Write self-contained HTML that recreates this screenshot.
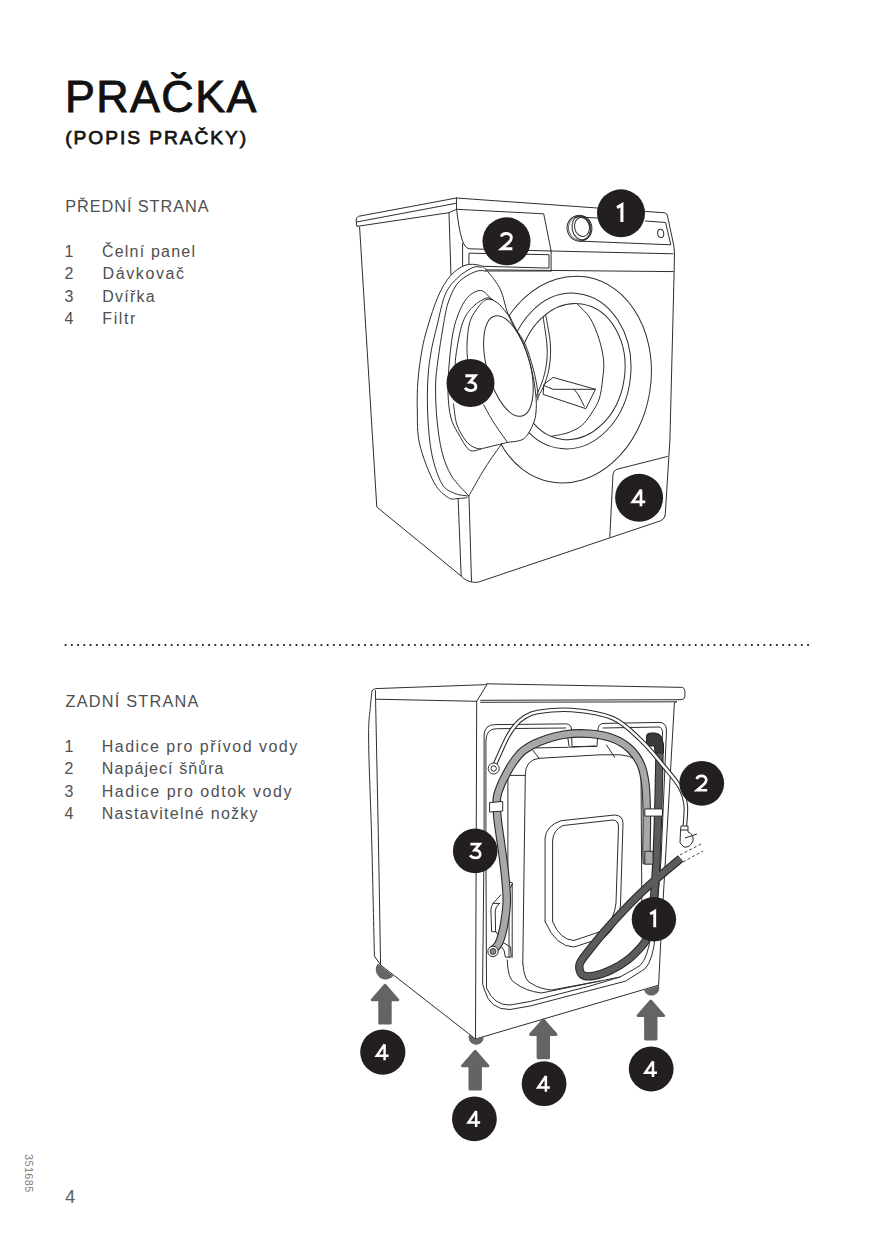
<!DOCTYPE html>
<html><head><meta charset="utf-8">
<style>
html,body{margin:0;padding:0;background:#fff;}
body{width:874px;height:1240px;position:relative;overflow:hidden;font-family:"Liberation Sans",sans-serif;}
.t{position:absolute;white-space:nowrap;line-height:1;}
#title{left:64.9px;top:73.8px;font-size:44.8px;letter-spacing:1.45px;color:#111;-webkit-text-stroke:0.9px #111;}
#sub{left:65.2px;top:127.6px;font-size:19.2px;letter-spacing:1.95px;color:#151515;-webkit-text-stroke:0.75px #151515;}
.h{font-size:16.3px;color:#505050;}
.l{font-size:16px;color:#505050;}
svg{position:absolute;left:0;top:0;}
</style></head><body>
<div class="t" id="title">PRAČKA</div>
<div class="t" id="sub">(POPIS PRAČKY)</div>
<div class="t h" id="h1" style="left:65.2px;top:198px;letter-spacing:0.94px">PŘEDNÍ STRANA</div>
<div class="t l" id="n1" style="left:64.6px;top:243.9px">1</div><div class="t l" id="f1" style="left:101.9px;top:243.9px;letter-spacing:1.21px">Čelní panel</div>
<div class="t l" id="n2" style="left:64.6px;top:266.3px">2</div><div class="t l" id="f2" style="left:102.6px;top:266.3px;letter-spacing:1.6px">Dávkovač</div>
<div class="t l" id="n3" style="left:64.6px;top:288.6px">3</div><div class="t l" id="f3" style="left:102.3px;top:288.6px;letter-spacing:1.24px">Dvířka</div>
<div class="t l" id="n4" style="left:64.6px;top:310.9px">4</div><div class="t l" id="f4" style="left:102.3px;top:310.9px;letter-spacing:1.6px">Filtr</div>
<div class="t h" id="h2" style="left:65.6px;top:692.9px;letter-spacing:1.22px">ZADNÍ STRANA</div>
<div class="t l" id="m1" style="left:64.6px;top:739.1px">1</div><div class="t l" id="b1" style="left:101.8px;top:739.1px;letter-spacing:1.47px">Hadice pro přívod vody</div>
<div class="t l" id="m2" style="left:64.6px;top:761.4px">2</div><div class="t l" id="b2" style="left:101.8px;top:761.4px;letter-spacing:1.085px">Napájecí šňůra</div>
<div class="t l" id="m3" style="left:64.6px;top:783.8px">3</div><div class="t l" id="b3" style="left:101.8px;top:783.8px;letter-spacing:1.52px">Hadice pro odtok vody</div>
<div class="t l" id="m4" style="left:64.6px;top:806.1px">4</div><div class="t l" id="b4" style="left:101.8px;top:806.1px;letter-spacing:1.265px">Nastavitelné nožky</div>
<div class="t" id="pg" style="left:65.3px;top:1188.6px;font-size:17.8px;color:#5a5a5a">4</div>
<div class="t" id="code" style="left:34px;top:1154px;font-size:10.8px;letter-spacing:0.45px;color:#808080;transform-origin:0 0;transform:rotate(90deg)">351685</div>
<svg width="874" height="1240" viewBox="0 0 874 1240"><g fill="none" stroke="#2e2e2e" stroke-width="1.0" stroke-linejoin="round" stroke-linecap="round">
<path d="M456.4,198 L358.5,216.3 Q355.6,217.5 356.2,221 L356.8,226.4 L449,212.7 L456.6,209.3" />
<path d="M356.6,222 L455.6,203.4" />
<path d="M456.4,198 L456.6,209.3" />
<path d="M359.6,227 L376.8,507 L461.2,576 Q466,581.5 473.6,582.3 L477.7,582.3 L660.9,520.7 Q665,518.5 665.2,515.2" />
<path d="M449,213 L451,276" />
<path d="M456.4,198 L664.9,212.8 Q667.1,213.5 667.5,216 L673.8,245.6 L674.5,253 L673.8,285 L669.9,440 L665.2,515.2" />
<path d="M456.6,209.3 L543.7,213.8 L551.1,251" />
<path d="M456.6,209.3 Q459,230 461.9,239 Q464.5,248 469.3,248.8 L551.1,251 L673,253.8" />
<path d="M462.6,243.5 L462.6,267.3" />
<path d="M469.3,253.2 L549,254.7 L549,268.1 L469.3,265.9 Z" />
<path d="M551.1,251 L551.1,271" />
<path d="M462.6,269.6 L673.3,271.6" />
<path d="M579.3,241.1 L670.8,244.8 L665.6,222.5 L645.5,221" />
<path d="M575,216.8 L597,218" />
<ellipse cx="579.5" cy="228.2" rx="12.4" ry="13" transform="rotate(-15 579.5 228.2)"/>
<ellipse cx="579.8" cy="228.2" rx="11.4" ry="12.1" transform="rotate(-15 579.8 228.2)" stroke-width="0.7"/>
<ellipse cx="581.2" cy="228" rx="9.1" ry="12" transform="rotate(-12 581.2 228)"/>
<ellipse cx="582" cy="227" rx="7.4" ry="9.6" transform="rotate(-12 582 227)"/>
<ellipse cx="660.7" cy="233.4" rx="3" ry="4.2" transform="rotate(-10 660.7 233.4)"/>
<path d="M609.8,537 L613,474 Q613.5,470.5 617,469.3 L667.4,456.5" />
<path d="M458.1,498.4 L461.2,576" />
<path d="M469,496.8 L471.5,581.2" />
<ellipse cx="569.2" cy="379.6" rx="81.5" ry="104" transform="rotate(9.8 569.2 379.6)"/>
<ellipse cx="569.2" cy="371" rx="61.6" ry="78" transform="rotate(5.8 569.2 371)"/>
<ellipse cx="571.5" cy="371.6" rx="53.2" ry="68.3" transform="rotate(8.6 571.5 371.6)"/>
<path d="M577.0,303.8 C579.2,306.2 586.3,312.1 590.0,318.0 C593.7,323.9 596.9,332.2 599.2,339.5 C601.5,346.8 603.2,355.1 603.7,361.8 C604.2,368.6 603.2,373.8 602.5,380.0 C601.8,386.2 601.1,393.3 599.2,399.0 C597.3,404.7 594.0,409.5 591.0,414.0 C588.0,418.5 585.4,422.6 581.4,425.8 C577.4,429.0 572.0,431.3 567.0,433.0 C562.0,434.7 554.2,435.7 551.6,436.2" />
<path d="M543.2,317.5 C543.8,321.8 546.2,335.9 546.8,343.2 C547.4,350.4 547.4,355.1 546.8,361.0 C546.2,366.9 545.0,372.8 543.2,378.7 C541.4,384.6 537.3,393.5 536.1,396.5" />
<path d="M545.9,315.7 C546.6,320.3 549.7,335.0 550.3,343.2 C550.9,351.4 550.5,358.4 549.6,365.0 C548.7,371.6 547.0,377.5 545.0,383.0 C543.0,388.5 538.8,395.5 537.5,398.0" />
<path d="M544.2,384.1 L553.1,377.4 L595.5,389.3 L585.9,408.7 L543.5,394.5 Z" />
<path d="M544.2,385.6 L553.1,389.3 L574,389.3 L595.5,389.3" />
<path d="M574,389.3 L578,394 L584.4,406.4" />
</g>
<path d="M466.9,497.7 C465.1,498.0 461.1,498.5 458.0,498.5 C454.9,498.5 452.4,500.4 448.4,497.7 C444.4,495.0 438.8,491.4 434.0,482.5 C429.2,473.6 422.4,456.1 419.6,444.0 C416.8,431.9 417.6,420.7 417.3,410.0 C417.0,399.3 417.2,390.0 418.0,380.0 C418.8,370.0 420.4,358.8 422.0,350.0 C423.6,341.2 424.9,336.0 427.6,327.0 C430.3,318.0 434.4,304.8 438.2,296.2 C442.0,287.6 446.1,280.8 450.6,275.6 C455.1,270.5 460.2,267.0 465.0,265.3 C469.8,263.6 475.6,264.3 479.4,265.3 C483.2,266.3 484.2,267.4 487.7,271.5 C491.2,275.6 497.1,282.6 500.6,290.0 C504.1,297.4 504.8,306.5 508.6,315.7 C512.5,324.9 519.9,336.0 523.7,345.0 C527.6,354.0 529.7,361.6 531.7,369.9 C533.7,378.2 535.1,388.0 535.8,395.0 C536.5,402.0 536.5,407.1 536.0,412.0 C535.5,416.9 535.1,419.7 533.1,424.1 C531.1,428.6 528.2,435.6 523.9,438.7 C519.6,441.8 511.1,441.6 507.5,442.4 C503.9,443.2 505.8,439.0 502.0,443.3 C498.2,447.6 490.6,459.1 485.0,468.0 C479.4,476.9 471.5,491.6 468.5,496.5 C465.5,501.4 468.6,497.4 466.9,497.7Z" fill="#fff" stroke="none"/>
<g fill="none" stroke="#2e2e2e" stroke-width="1.0" stroke-linejoin="round" stroke-linecap="round">
<path d="M466.9,497.7 C465.4,497.8 461.1,498.5 458.0,498.5 C454.9,498.5 452.4,500.4 448.4,497.7 C444.4,495.0 438.8,491.4 434.0,482.5 C429.2,473.6 422.4,456.1 419.6,444.0 C416.8,431.9 417.6,420.7 417.3,410.0 C417.0,399.3 417.2,390.0 418.0,380.0 C418.8,370.0 420.4,358.8 422.0,350.0 C423.6,341.2 424.9,336.0 427.6,327.0 C430.3,318.0 434.4,304.8 438.2,296.2 C442.0,287.6 446.1,280.8 450.6,275.6 C455.1,270.5 460.2,267.0 465.0,265.3 C469.8,263.6 475.6,264.3 479.4,265.3 C483.2,266.3 484.2,267.4 487.7,271.5 C491.2,275.6 497.1,282.6 500.6,290.0 C504.1,297.4 504.8,306.5 508.6,315.7 C512.5,324.9 519.9,336.0 523.7,345.0 C527.6,354.0 529.7,361.6 531.7,369.9 C533.7,378.2 535.1,388.0 535.8,395.0 C536.5,402.0 536.5,407.1 536.0,412.0 C535.5,416.9 535.1,419.7 533.1,424.1 C531.1,428.6 528.2,435.6 523.9,438.7 C519.6,441.8 510.2,441.8 507.5,442.4" />
<path d="M507.5,442.4 C503.0,443.5 485.0,447.9 480.5,449.0" />
<path d="M502.0,443.3 C499.2,447.4 490.6,459.1 485.0,468.0 C479.4,476.9 471.2,491.8 468.5,496.5" />
<path d="M481.5,267.4 C480.1,267.4 477.1,265.7 473.2,267.4 C469.3,269.1 462.6,272.9 458.0,277.4 C453.4,281.8 448.9,286.2 445.4,294.1 C441.9,302.0 439.7,314.9 437.2,325.0 C434.7,335.1 432.1,345.0 430.5,355.0 C428.9,365.0 428.0,374.2 427.6,385.0 C427.2,395.8 427.3,408.3 428.0,420.0 C428.7,431.7 429.7,444.3 432.0,455.0 C434.3,465.7 438.2,477.6 442.0,484.0 C445.8,490.4 450.6,491.5 455.0,493.5 C459.4,495.5 466.2,495.6 468.5,496.0" />
<path d="M485.6,271.0 C484.2,271.0 480.8,270.0 477.4,271.0 C474.0,272.0 468.6,274.5 465.0,277.0 C461.4,279.5 458.5,281.6 455.7,285.9 C452.9,290.2 450.1,296.5 448.0,303.0 C445.9,309.5 445.1,315.5 443.4,325.0 C441.7,334.5 439.3,350.0 438.0,360.0 C436.7,370.0 435.8,375.0 435.6,385.0 C435.4,395.0 435.9,408.8 437.0,420.0 C438.1,431.2 439.6,442.7 442.0,452.0 C444.4,461.3 447.2,468.8 451.6,476.0 C456.0,483.2 465.7,492.2 468.5,495.5" />
<path d="M485.6,271 L551,271" />
<path d="M508.6,315.7 C507.2,313.9 502.8,307.7 500.0,305.0 C497.2,302.3 495.1,301.7 491.8,299.3 C488.6,296.9 484.8,290.5 480.5,290.5 C476.2,290.5 470.3,293.6 466.0,299.3 C461.7,305.1 457.4,314.9 454.7,325.0 C451.9,335.1 450.6,348.7 449.5,360.0 C448.4,371.3 447.8,383.1 448.0,392.8 C448.2,402.5 449.3,411.3 451.0,418.0 C452.7,424.7 454.9,427.7 458.0,433.0 C461.1,438.3 465.6,447.3 469.3,450.0 C473.1,452.7 478.6,449.2 480.5,449.0" />
<path d="M492.7,299.8 C491.5,299.5 489.2,296.8 485.6,298.2 C482.0,299.6 475.1,304.0 471.2,308.5 C467.2,313.0 464.4,317.2 461.9,325.0 C459.4,332.8 457.1,347.3 456.0,355.0 C454.9,362.7 455.2,368.3 455.0,371.0" />
<path d="M453.5,404.0 C454.1,407.5 454.9,418.8 457.0,425.0 C459.1,431.2 463.2,437.3 466.0,441.0 C468.8,444.7 471.6,446.0 474.0,447.3 C476.4,448.6 479.4,448.7 480.5,449.0" />
<path d="M492.7,299.8 C491.4,299.9 487.7,298.2 484.6,300.3 C481.5,302.4 476.9,308.6 474.3,312.7 C471.7,316.8 470.3,319.6 469.1,325.0 C467.9,330.4 467.2,338.8 467.0,345.0 C466.8,351.2 467.6,359.2 467.7,362.0" />
<ellipse cx="508.4" cy="366" rx="21.5" ry="51.8" transform="rotate(-15.2 508.4 366)"/>
<path d="M509.8,316.2 C510.8,318.3 513.4,324.2 516.0,329.0 C518.6,333.8 522.6,338.2 525.5,345.0 C528.4,351.8 531.5,362.4 533.5,369.9 C535.5,377.4 536.8,385.0 537.5,390.0 C538.2,395.0 537.8,398.3 537.9,400.0" />
<path d="M483.7,404.9 C485.4,407.9 490.0,416.8 494.0,423.0 C498.0,429.2 505.2,439.2 507.5,442.4" />
</g>
<g fill="none" stroke="#2e2e2e" stroke-width="1.0" stroke-linejoin="round" stroke-linecap="round">
<path d="M372,691 Q373,688.8 375.8,688.6 L484.5,684.7 L487.4,683.8 L682.7,687.4 Q684.7,688 684.9,691.5 L684.9,696.5 Q684.7,699.5 681,699.7 L480.6,700.3" />
<path d="M375.8,699.2 L476.7,701.3 L487.4,683.8" />
<path d="M480.6,702.3 L676.5,701.8" />
<path d="M372.0,691.0 C371.7,693.8 370.9,699.3 370.3,707.5 C369.7,715.7 368.4,717.9 368.6,740.0 C368.8,762.1 370.7,804.0 371.7,840.0 C372.7,876.0 373.9,936.7 374.4,956.0 L380.6,965" />
<path d="M375.4,690.5 L378.5,845 L380.6,965" />
<path d="M380.6,965 L475.5,1039 L658.6,985.2" />
<path d="M476.7,701.3 L475.5,1039" />
<path d="M676.5,701.8 L674.4,702.8 L660.9,938.9 L658.6,985.2" />
<path d="M484.1,845 L484.1,735 Q484.5,724.6 495.1,724.6 L566.5,723.9 Q571.3,724.5 571.5,729 L572,746.6 L597,746.5 L598,729 Q598.5,723.4 604,723.4 L660,722.4 Q666.2,723 666.5,730 L661,860 L654,945.8 Q650,968 641.5,971 L625.5,981.2 L590,990.4 L530,1006 L510,1009.5 Q490,1010 484.5,990 L482.6,984 L484.1,845" />
<path d="M485.9,845 L485.9,741 Q486,728.7 496.5,728.7 L565.8,728 M603,728 L659,727 Q662.5,727.5 662.5,733 L657,860 L649.5,943.5 Q645,965 636,968 L620,977 L590,986 L530,1001.5 L510,1005 Q494,1005.5 486.5,988 L485.9,845" />
<path d="M567.9,738.3 L569.2,747.3 L595.3,745.9" />
<path d="M532.2,748 L567.9,747.3" />
<path d="M507.9,880 L507.9,775.4 L525.3,775.4" />
<path d="M522.8,963.3 L525.3,775 Q525.3,760 539,758.3 L600,754.8 L620,754.8 Q640,756 641,772 L642,930" />
<path d="M532.2,749.3 L539,758.3" />
<path d="M606.5,745 L614.7,757.4" />
<path d="M522.8,963.3 Q524,982 532.5,984.1 Q540,989 551.8,990 L600,981" />
<path d="M507.2,960 Q508,980 514.6,982.6 Q525,991 541.4,993 L620,977" />
<path d="M545.1,921.6 L545.1,838 Q546,826 561,820.7 L614.7,815 Q623,815.5 623,823.3 L620.5,905 Q619,925 605,937 L574,947 Q556,947 545.1,921.6" />
<path d="M552.6,921.6 L552.6,841 Q553,830 563,825.5 L613,820 Q618.5,820.5 618.5,827 L616,903 Q614.5,920 602,931 L574,940.5 Q560,940 552.6,921.6" />
<path d="M509,881.5 L512.7,883 L510.5,888 M509,881.5 L509,957.3 M512.2,884 L512.2,957.3" />
<path d="M501,894.7 L493.1,903.4 Q490.9,906 490.9,910 L491.6,931.7 L496,931.7 L503.2,942.6 L510.5,946.9 L511.2,957.1 L505.4,957.1 Q505,950 501.8,946.9" />
<path d="M499.6,903.4 Q495.2,907 495.2,911 L495.6,931.7" />
<path d="M493.1,903.4 L499.6,903.4" />
</g>
<path d="M492.5,950.5 C493.6,949.2 497.1,947.2 499.0,943.0 C500.9,938.8 502.7,932.2 504.0,925.0 C505.3,917.8 506.7,909.2 506.8,900.0 C506.9,890.8 505.6,880.0 504.5,870.0 C503.4,860.0 501.6,848.2 500.5,840.0 C499.4,831.8 498.4,826.8 497.8,821.0 C497.2,815.2 496.7,809.2 496.6,805.0 C496.5,800.8 496.7,798.8 497.2,796.0 C497.7,793.2 498.8,790.7 499.8,788.0 C500.8,785.3 501.2,784.0 503.3,779.9 C505.4,775.8 509.1,768.3 512.5,763.4 C515.9,758.5 518.8,754.2 523.4,750.6 C528.0,747.0 533.0,744.2 539.9,741.5 C546.8,738.8 556.6,735.8 565.0,734.5 C573.4,733.2 582.0,733.1 590.0,733.8 C598.0,734.5 606.3,736.0 613.0,738.5 C619.7,741.0 625.3,744.6 630.0,749.0 C634.7,753.4 638.4,759.0 641.0,765.0 C643.6,771.0 644.5,776.8 645.5,785.0 C646.5,793.2 646.6,803.2 646.8,814.0 C647.0,824.8 646.5,841.7 646.5,850.0 C646.5,858.3 646.9,861.7 647.0,864.0" fill="none" stroke="#2a2a2a" stroke-width="8.6" stroke-linecap="butt"/>
<path d="M492.5,950.5 C493.6,949.2 497.1,947.2 499.0,943.0 C500.9,938.8 502.7,932.2 504.0,925.0 C505.3,917.8 506.7,909.2 506.8,900.0 C506.9,890.8 505.6,880.0 504.5,870.0 C503.4,860.0 501.6,848.2 500.5,840.0 C499.4,831.8 498.4,826.8 497.8,821.0 C497.2,815.2 496.7,809.2 496.6,805.0 C496.5,800.8 496.7,798.8 497.2,796.0 C497.7,793.2 498.8,790.7 499.8,788.0 C500.8,785.3 501.2,784.0 503.3,779.9 C505.4,775.8 509.1,768.3 512.5,763.4 C515.9,758.5 518.8,754.2 523.4,750.6 C528.0,747.0 533.0,744.2 539.9,741.5 C546.8,738.8 556.6,735.8 565.0,734.5 C573.4,733.2 582.0,733.1 590.0,733.8 C598.0,734.5 606.3,736.0 613.0,738.5 C619.7,741.0 625.3,744.6 630.0,749.0 C634.7,753.4 638.4,759.0 641.0,765.0 C643.6,771.0 644.5,776.8 645.5,785.0 C646.5,793.2 646.6,803.2 646.8,814.0 C647.0,824.8 646.5,841.7 646.5,850.0 C646.5,858.3 646.9,861.7 647.0,864.0" fill="none" stroke="#a8a8a8" stroke-width="6.4" stroke-linecap="butt"/>
<circle cx="493" cy="951.4" r="5.2" fill="#fff" stroke="#2a2a2a" stroke-width="1"/><circle cx="493" cy="951.4" r="3" fill="#888" stroke="#2a2a2a" stroke-width="0.8"/>
<path d="M659.5,752.0 C659.3,760.0 659.0,782.0 658.5,800.0 C658.0,818.0 657.3,842.5 656.5,860.0 C655.7,877.5 654.5,893.7 653.5,905.0 C652.5,916.3 651.3,922.9 650.5,928.0 C649.7,933.1 649.8,933.0 648.5,935.8 C647.2,938.6 646.2,940.9 642.8,944.9 C639.4,948.9 633.2,955.6 627.9,959.8 C622.6,964.0 616.5,967.4 610.8,970.1 C605.1,972.8 598.4,975.0 593.6,975.8 C588.8,976.6 584.5,976.6 582.2,974.7 C579.9,972.8 578.7,968.2 579.6,964.4 C580.5,960.6 582.7,958.5 587.9,951.8 C593.1,945.1 601.4,934.6 610.8,924.3 C620.1,914.0 632.4,901.0 644.0,890.0 C655.6,879.0 674.5,863.8 680.6,858.5" fill="none" stroke="#2a2a2a" stroke-width="8.4" stroke-linecap="butt" stroke-linejoin="round"/>
<path d="M659.5,752.0 C659.3,760.0 659.0,782.0 658.5,800.0 C658.0,818.0 657.3,842.5 656.5,860.0 C655.7,877.5 654.5,893.7 653.5,905.0 C652.5,916.3 651.3,922.9 650.5,928.0 C649.7,933.1 649.8,933.0 648.5,935.8 C647.2,938.6 646.2,940.9 642.8,944.9 C639.4,948.9 633.2,955.6 627.9,959.8 C622.6,964.0 616.5,967.4 610.8,970.1 C605.1,972.8 598.4,975.0 593.6,975.8 C588.8,976.6 584.5,976.6 582.2,974.7 C579.9,972.8 578.7,968.2 579.6,964.4 C580.5,960.6 582.7,958.5 587.9,951.8 C593.1,945.1 601.4,934.6 610.8,924.3 C620.1,914.0 632.4,901.0 644.0,890.0 C655.6,879.0 674.5,863.8 680.6,858.5" fill="none" stroke="#5c5c5c" stroke-width="6.2" stroke-linecap="butt" stroke-linejoin="round"/>
<path d="M644.8,808.9 L662.5,808.9 L662.5,816.1 L644.8,816.1 Z" fill="#fff" stroke="#2a2a2a" stroke-width="1"/>
<path d="M644.8,851.3 L653,851.3 L653,864.2 L644.8,864.2 Z" fill="#aaa" stroke="#2a2a2a" stroke-width="1"/>
<path d="M489.6,802.5 L502.7,801.5 L502.7,811.1 L489.6,812 Z" fill="#fff" stroke="#2a2a2a" stroke-width="1"/>
<path d="M646.5,735.5 Q647,733 650.5,733 L655,733 Q660,733.5 661.5,737 L663.5,744 L663.5,753 L655,753 L654.5,746 L649,746 Q646.5,745 646.5,742 Z" fill="#3a3a3a" stroke="#222" stroke-width="1"/>
<path d="M680,855 L702,843.5 M683,862 L703,851" stroke="#333" stroke-width="0.9" stroke-dasharray="3,2.2" fill="none"/>
<path d="M494.2,766.0 C495.2,763.8 497.8,757.8 500.0,753.0 C502.2,748.2 505.0,741.6 507.5,737.0 C510.0,732.4 512.5,728.8 515.2,725.5 C518.0,722.2 520.2,719.8 524.0,717.5 C527.8,715.2 529.8,713.2 537.7,712.0 C545.6,710.8 559.0,709.0 571.5,710.0 C584.0,711.0 601.0,713.1 612.7,718.2 C624.4,723.3 633.1,732.8 641.6,740.8 C650.1,748.8 657.6,758.8 664.0,766.5 C670.4,774.2 676.4,780.9 680.0,787.3 C683.6,793.7 684.9,798.6 685.7,805.0 C686.5,811.4 685.0,822.2 684.9,825.7" fill="none" stroke="#2a2a2a" stroke-width="4.6" stroke-linecap="butt"/>
<path d="M494.2,766.0 C495.2,763.8 497.8,757.8 500.0,753.0 C502.2,748.2 505.0,741.6 507.5,737.0 C510.0,732.4 512.5,728.8 515.2,725.5 C518.0,722.2 520.2,719.8 524.0,717.5 C527.8,715.2 529.8,713.2 537.7,712.0 C545.6,710.8 559.0,709.0 571.5,710.0 C584.0,711.0 601.0,713.1 612.7,718.2 C624.4,723.3 633.1,732.8 641.6,740.8 C650.1,748.8 657.6,758.8 664.0,766.5 C670.4,774.2 676.4,780.9 680.0,787.3 C683.6,793.7 684.9,798.6 685.7,805.0 C686.5,811.4 685.0,822.2 684.9,825.7" fill="none" stroke="#fff" stroke-width="2.5" stroke-linecap="butt"/>
<circle cx="493.7" cy="768.5" r="5.5" fill="#fff" stroke="#2a2a2a" stroke-width="1"/><circle cx="493.7" cy="768.5" r="2.7" fill="#fff" stroke="#2a2a2a" stroke-width="1"/>
<path d="M681,826 L688,826 L688,832 Q694,834 693,841 Q690,848 684,847 L680,843 L680.5,831 Z" fill="#fff" stroke="#2a2a2a" stroke-width="1"/>
<path d="M681,830 L688,830 M685,838 L697,834" stroke="#2a2a2a" stroke-width="1" fill="none"/>
<path d="M377.8,963.5 A8.0,8.0 0 0 0 393.5,975.8 Z" fill="#666"/>
<path d="M469.2,1034.1 L475.5,1039 L483.7,1036.6 A7.6,7.6 0 1 1 469.2,1034.1 Z" fill="#666"/>
<path d="M644.0,990.0 A7.8,7.8 0 0 0 659.0,985.5 Z" fill="#666"/>
<path d="M385.0,985.2 L397.8,999.9 L390.3,999.9 L390.3,1023.2 L379.7,1023.2 L379.7,999.9 L372.2,999.9 Z" fill="#646466" stroke="#646466" stroke-width="2.8" stroke-linejoin="round"/>
<path d="M475.2,1051.2 L488.0,1065.9 L480.5,1065.9 L480.5,1089.2 L469.9,1089.2 L469.9,1065.9 L462.4,1065.9 Z" fill="#646466" stroke="#646466" stroke-width="2.8" stroke-linejoin="round"/>
<path d="M543.3,1019.8 L556.1,1034.5 L548.6,1034.5 L548.6,1057.8 L538.0,1057.8 L538.0,1034.5 L530.5,1034.5 Z" fill="#646466" stroke="#646466" stroke-width="2.8" stroke-linejoin="round"/>
<path d="M650.8,1001.0 L663.6,1015.7 L656.1,1015.7 L656.1,1039.0 L645.5,1039.0 L645.5,1015.7 L638.0,1015.7 Z" fill="#646466" stroke="#646466" stroke-width="2.8" stroke-linejoin="round"/>
<circle cx="475.2" cy="850.9" r="22.3" fill="#231f20"/><path d="M-5.2,-7.3 L4.8,-7.3 L-0.6,-0.9 C3.1,-1.0 5.4,0.9 5.4,3.6 C5.4,6.3 3.2,7.6 0.3,7.6 C-2.3,7.6 -4.2,6.6 -5.6,4.9" transform="translate(475.20 850.90) scale(0.925)" fill="none" stroke="#fff" stroke-width="2.90" stroke-linejoin="miter" stroke-miterlimit="3"/>
<circle cx="653.9" cy="919.3" r="22.2" fill="#231f20"/><path d="M-4.0,-5.7 L0.9,-8.7 L0.9,8.7" transform="translate(653.90 919.30) scale(0.921)" fill="none" stroke="#fff" stroke-width="3.10" stroke-linejoin="miter" stroke-miterlimit="3"/>
<circle cx="701.7" cy="783.3" r="22.4" fill="#231f20"/><path d="M-5.3,-4.6 C-4.6,-7.2 -2.6,-7.9 -0.2,-7.9 C2.8,-7.9 4.9,-6.1 4.9,-3.6 C4.9,-1.6 3.9,-0.2 1.9,1.6 L-4.9,7.5 L5.9,7.5" transform="translate(701.70 783.30) scale(0.929)" fill="none" stroke="#fff" stroke-width="2.90" stroke-linejoin="miter" stroke-miterlimit="3"/>
<circle cx="382.8" cy="1052.1" r="22.6" fill="#231f20"/><path d="M1.9,8.6 L1.9,-8.2 L-6.4,4.0 L6.2,4.0" transform="translate(382.80 1052.10) scale(0.938)" fill="none" stroke="#fff" stroke-width="2.70" stroke-linejoin="miter" stroke-miterlimit="3"/>
<circle cx="474.4" cy="1118.9" r="22.4" fill="#231f20"/><path d="M1.9,8.6 L1.9,-8.2 L-6.4,4.0 L6.2,4.0" transform="translate(474.40 1118.90) scale(0.929)" fill="none" stroke="#fff" stroke-width="2.70" stroke-linejoin="miter" stroke-miterlimit="3"/>
<circle cx="544.1" cy="1083.7" r="22.4" fill="#231f20"/><path d="M1.9,8.6 L1.9,-8.2 L-6.4,4.0 L6.2,4.0" transform="translate(544.10 1083.70) scale(0.929)" fill="none" stroke="#fff" stroke-width="2.70" stroke-linejoin="miter" stroke-miterlimit="3"/>
<circle cx="651.2" cy="1069.0" r="22.4" fill="#231f20"/><path d="M1.9,8.6 L1.9,-8.2 L-6.4,4.0 L6.2,4.0" transform="translate(651.20 1069.00) scale(0.929)" fill="none" stroke="#fff" stroke-width="2.70" stroke-linejoin="miter" stroke-miterlimit="3"/>
<circle cx="621.0" cy="213.3" r="24.0" fill="#231f20"/><path d="M-4.0,-5.7 L0.9,-8.7 L0.9,8.7" transform="translate(621.00 213.30) scale(0.996)" fill="none" stroke="#fff" stroke-width="3.10" stroke-linejoin="miter" stroke-miterlimit="3"/>
<circle cx="506.5" cy="241.3" r="24.0" fill="#231f20"/><path d="M-5.3,-4.6 C-4.6,-7.2 -2.6,-7.9 -0.2,-7.9 C2.8,-7.9 4.9,-6.1 4.9,-3.6 C4.9,-1.6 3.9,-0.2 1.9,1.6 L-4.9,7.5 L5.9,7.5" transform="translate(506.50 241.30) scale(0.996)" fill="none" stroke="#fff" stroke-width="2.90" stroke-linejoin="miter" stroke-miterlimit="3"/>
<circle cx="470.5" cy="383.0" r="24.0" fill="#231f20"/><path d="M-5.2,-7.3 L4.8,-7.3 L-0.6,-0.9 C3.1,-1.0 5.4,0.9 5.4,3.6 C5.4,6.3 3.2,7.6 0.3,7.6 C-2.3,7.6 -4.2,6.6 -5.6,4.9" transform="translate(470.50 383.00) scale(0.996)" fill="none" stroke="#fff" stroke-width="2.90" stroke-linejoin="miter" stroke-miterlimit="3"/>
<circle cx="639.1" cy="497.8" r="24.0" fill="#231f20"/><path d="M1.9,8.6 L1.9,-8.2 L-6.4,4.0 L6.2,4.0" transform="translate(639.10 497.80) scale(0.996)" fill="none" stroke="#fff" stroke-width="2.70" stroke-linejoin="miter" stroke-miterlimit="3"/><g fill="#111"><circle cx="65.60" cy="645" r="1.05"/><circle cx="71.84" cy="645" r="1.05"/><circle cx="78.08" cy="645" r="1.05"/><circle cx="84.32" cy="645" r="1.05"/><circle cx="90.56" cy="645" r="1.05"/><circle cx="96.79" cy="645" r="1.05"/><circle cx="103.03" cy="645" r="1.05"/><circle cx="109.27" cy="645" r="1.05"/><circle cx="115.51" cy="645" r="1.05"/><circle cx="121.75" cy="645" r="1.05"/><circle cx="127.99" cy="645" r="1.05"/><circle cx="134.23" cy="645" r="1.05"/><circle cx="140.47" cy="645" r="1.05"/><circle cx="146.71" cy="645" r="1.05"/><circle cx="152.95" cy="645" r="1.05"/><circle cx="159.19" cy="645" r="1.05"/><circle cx="165.42" cy="645" r="1.05"/><circle cx="171.66" cy="645" r="1.05"/><circle cx="177.90" cy="645" r="1.05"/><circle cx="184.14" cy="645" r="1.05"/><circle cx="190.38" cy="645" r="1.05"/><circle cx="196.62" cy="645" r="1.05"/><circle cx="202.86" cy="645" r="1.05"/><circle cx="209.10" cy="645" r="1.05"/><circle cx="215.34" cy="645" r="1.05"/><circle cx="221.57" cy="645" r="1.05"/><circle cx="227.81" cy="645" r="1.05"/><circle cx="234.05" cy="645" r="1.05"/><circle cx="240.29" cy="645" r="1.05"/><circle cx="246.53" cy="645" r="1.05"/><circle cx="252.77" cy="645" r="1.05"/><circle cx="259.01" cy="645" r="1.05"/><circle cx="265.25" cy="645" r="1.05"/><circle cx="271.49" cy="645" r="1.05"/><circle cx="277.73" cy="645" r="1.05"/><circle cx="283.97" cy="645" r="1.05"/><circle cx="290.20" cy="645" r="1.05"/><circle cx="296.44" cy="645" r="1.05"/><circle cx="302.68" cy="645" r="1.05"/><circle cx="308.92" cy="645" r="1.05"/><circle cx="315.16" cy="645" r="1.05"/><circle cx="321.40" cy="645" r="1.05"/><circle cx="327.64" cy="645" r="1.05"/><circle cx="333.88" cy="645" r="1.05"/><circle cx="340.12" cy="645" r="1.05"/><circle cx="346.36" cy="645" r="1.05"/><circle cx="352.59" cy="645" r="1.05"/><circle cx="358.83" cy="645" r="1.05"/><circle cx="365.07" cy="645" r="1.05"/><circle cx="371.31" cy="645" r="1.05"/><circle cx="377.55" cy="645" r="1.05"/><circle cx="383.79" cy="645" r="1.05"/><circle cx="390.03" cy="645" r="1.05"/><circle cx="396.27" cy="645" r="1.05"/><circle cx="402.51" cy="645" r="1.05"/><circle cx="408.75" cy="645" r="1.05"/><circle cx="414.98" cy="645" r="1.05"/><circle cx="421.22" cy="645" r="1.05"/><circle cx="427.46" cy="645" r="1.05"/><circle cx="433.70" cy="645" r="1.05"/><circle cx="439.94" cy="645" r="1.05"/><circle cx="446.18" cy="645" r="1.05"/><circle cx="452.42" cy="645" r="1.05"/><circle cx="458.66" cy="645" r="1.05"/><circle cx="464.90" cy="645" r="1.05"/><circle cx="471.13" cy="645" r="1.05"/><circle cx="477.37" cy="645" r="1.05"/><circle cx="483.61" cy="645" r="1.05"/><circle cx="489.85" cy="645" r="1.05"/><circle cx="496.09" cy="645" r="1.05"/><circle cx="502.33" cy="645" r="1.05"/><circle cx="508.57" cy="645" r="1.05"/><circle cx="514.81" cy="645" r="1.05"/><circle cx="521.05" cy="645" r="1.05"/><circle cx="527.29" cy="645" r="1.05"/><circle cx="533.52" cy="645" r="1.05"/><circle cx="539.76" cy="645" r="1.05"/><circle cx="546.00" cy="645" r="1.05"/><circle cx="552.24" cy="645" r="1.05"/><circle cx="558.48" cy="645" r="1.05"/><circle cx="564.72" cy="645" r="1.05"/><circle cx="570.96" cy="645" r="1.05"/><circle cx="577.20" cy="645" r="1.05"/><circle cx="583.44" cy="645" r="1.05"/><circle cx="589.68" cy="645" r="1.05"/><circle cx="595.91" cy="645" r="1.05"/><circle cx="602.15" cy="645" r="1.05"/><circle cx="608.39" cy="645" r="1.05"/><circle cx="614.63" cy="645" r="1.05"/><circle cx="620.87" cy="645" r="1.05"/><circle cx="627.11" cy="645" r="1.05"/><circle cx="633.35" cy="645" r="1.05"/><circle cx="639.59" cy="645" r="1.05"/><circle cx="645.83" cy="645" r="1.05"/><circle cx="652.07" cy="645" r="1.05"/><circle cx="658.31" cy="645" r="1.05"/><circle cx="664.54" cy="645" r="1.05"/><circle cx="670.78" cy="645" r="1.05"/><circle cx="677.02" cy="645" r="1.05"/><circle cx="683.26" cy="645" r="1.05"/><circle cx="689.50" cy="645" r="1.05"/><circle cx="695.74" cy="645" r="1.05"/><circle cx="701.98" cy="645" r="1.05"/><circle cx="708.22" cy="645" r="1.05"/><circle cx="714.46" cy="645" r="1.05"/><circle cx="720.70" cy="645" r="1.05"/><circle cx="726.93" cy="645" r="1.05"/><circle cx="733.17" cy="645" r="1.05"/><circle cx="739.41" cy="645" r="1.05"/><circle cx="745.65" cy="645" r="1.05"/><circle cx="751.89" cy="645" r="1.05"/><circle cx="758.13" cy="645" r="1.05"/><circle cx="764.37" cy="645" r="1.05"/><circle cx="770.61" cy="645" r="1.05"/><circle cx="776.85" cy="645" r="1.05"/><circle cx="783.09" cy="645" r="1.05"/><circle cx="789.32" cy="645" r="1.05"/><circle cx="795.56" cy="645" r="1.05"/><circle cx="801.80" cy="645" r="1.05"/><circle cx="808.04" cy="645" r="1.05"/></g></svg>
</body></html>
